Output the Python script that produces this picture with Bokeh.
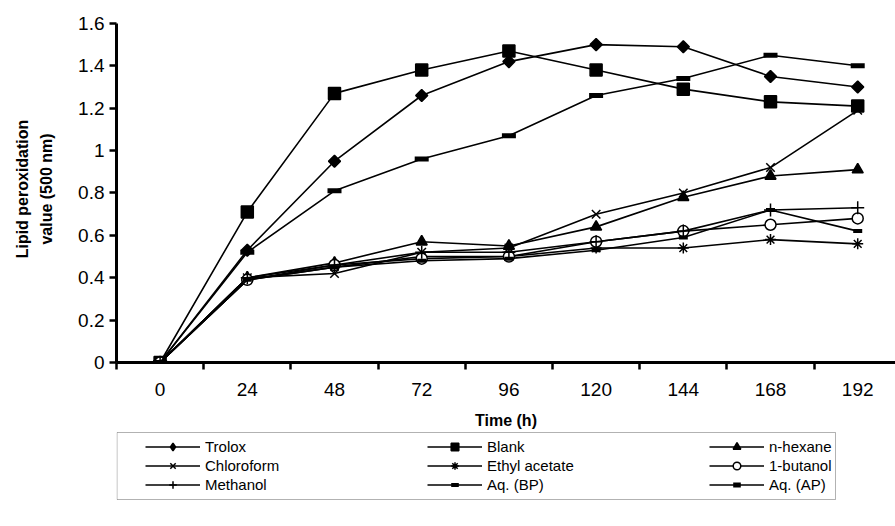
import math
from bokeh.plotting import figure
from bokeh.layouts import column
from bokeh.models import (Range1d, FixedTicker, NumeralTickFormatter, Legend,
                          LegendItem, LinearAxis, BoxAnnotation)
from bokeh.embed import file_html
from bokeh.resources import INLINE

hours = [0, 24, 48, 72, 96, 120, 144, 168, 192]
trolox = [0, 0.53, 0.95, 1.26, 1.42, 1.50, 1.49, 1.35, 1.30]
blank = [0, 0.71, 1.27, 1.38, 1.47, 1.38, 1.29, 1.23, 1.21]
n_hexane = [0, 0.40, 0.47, 0.57, 0.55, 0.64, 0.78, 0.88, 0.91]
chloroform = [0, 0.40, 0.42, 0.52, 0.54, 0.70, 0.80, 0.92, 1.19]
ethyl_acetate = [0, 0.39, 0.45, 0.50, 0.50, 0.54, 0.54, 0.58, 0.56]
butanol = [0, 0.39, 0.46, 0.49, 0.50, 0.57, 0.62, 0.65, 0.68]
methanol = [0, 0.40, 0.46, 0.52, 0.52, 0.57, 0.62, 0.72, 0.73]
aq_bp = [0, 0.39, 0.45, 0.48, 0.49, 0.53, 0.59, 0.72, 0.62]
aq_ap = [0, 0.52, 0.81, 0.96, 1.07, 1.26, 1.34, 1.45, 1.40]
y_ticks = [0, 0.2, 0.4, 0.6, 0.8, 1.0, 1.2, 1.4, 1.6]

FONT = "Liberation Sans"
TOP_H = 431
LEG_H = 526 - TOP_H
FRAME_L = 116

p = figure(width=895, height=TOP_H, output_backend="svg", toolbar_location=None,
           x_range=Range1d(-12, 202.4), y_range=Range1d(0, 1.6375),
           min_border_left=FRAME_L, min_border_right=0, min_border_top=15,
           min_border_bottom=TOP_H - 364)
p.grid.visible = False
p.outline_line_color = None

styles = [
    dict(marker="square", size=8.5, fill_color="black", angle=math.pi / 4),
    dict(marker="square", size=12, fill_color="black"),
    dict(marker="triangle", size=11, fill_color="black"),
    dict(marker="x", size=12, fill_color="black"),
    dict(marker="asterisk", size=11, fill_color="black"),
    dict(marker="circle", size=11, fill_color="white"),
    dict(marker="cross", size=13, fill_color="black"),
    dict(marker="dash", size=9, fill_color="black", line_width=4),
    dict(marker="dash", size=14, fill_color="black", line_width=5),
]
legend_styles = [dict(marker="diamond", size=12, fill_color="black")] + styles[1:]
names = ["Trolox", "Blank", "n-hexane", "Chloroform", "Ethyl acetate",
         "1-butanol", "Methanol", "Aq. (BP)", "Aq. (AP)"]
values = [trolox, blank, n_hexane, chloroform, ethyl_acetate, butanol,
          methanol, aq_bp, aq_ap]

for vals, st in zip(values, styles):
    kw = dict(line_width=1.5)
    kw.update(st)
    p.line(hours, vals, line_color="black", line_width=1.6)
    p.scatter(hours, vals, line_color="black", **kw)

xa = p.xaxis[0]
xa.ticker = FixedTicker(ticks=hours, minor_ticks=[-12 + 24 * i for i in range(9)])
xa.axis_line_width = 3
xa.major_tick_out = 0
xa.major_tick_in = 0
xa.minor_tick_out = 7
xa.minor_tick_in = 0
xa.minor_tick_line_width = 2.5
xa.major_label_standoff = 13
xa.major_label_text_font = FONT
xa.major_label_text_font_size = "19px"
xa.major_label_text_color = "black"
xa.axis_label = "Time (h)"
xa.axis_label_text_font = FONT
xa.axis_label_text_font_style = "bold"
xa.axis_label_text_font_size = "16px"
xa.axis_label_text_color = "black"
xa.axis_label_standoff = 13

ya = p.yaxis[0]
ya.ticker = FixedTicker(ticks=y_ticks, minor_ticks=[])
ya.formatter = NumeralTickFormatter(format="0.[0]")
ya.bounds = (0, 1.6)
ya.axis_line_width = 3
ya.major_tick_out = 7
ya.major_tick_in = 0
ya.major_tick_line_width = 2.5
ya.minor_tick_out = 0
ya.minor_tick_in = 0
ya.major_label_standoff = 5
ya.major_label_text_font = FONT
ya.major_label_text_font_size = "19px"
ya.major_label_text_color = "black"
ya.axis_label = "value (500 nm)"
ya.axis_label_text_font = FONT
ya.axis_label_text_font_style = "bold"
ya.axis_label_text_font_size = "16px"
ya.axis_label_text_color = "black"
ya.axis_label_standoff = 20

ya2 = LinearAxis(ticker=FixedTicker(ticks=[]), axis_line_color=None,
                 major_tick_line_color=None, minor_tick_line_color=None,
                 axis_label="Lipid peroxidation", axis_label_standoff=5,
                 axis_label_text_font=FONT, axis_label_text_font_style="bold",
                 axis_label_text_font_size="16px", axis_label_text_color="black")
p.add_layout(ya2, "left")

# legend panel below the chart (data units = page pixels)
q = figure(width=895, height=LEG_H, output_backend="svg", toolbar_location=None,
           x_range=Range1d(FRAME_L, 895), y_range=Range1d(LEG_H, 0),
           x_axis_type=None, y_axis_type=None, min_border=0,
           min_border_left=FRAME_L, min_border_right=0, min_border_top=0,
           min_border_bottom=0)
q.outline_line_color = None
q.grid.visible = False

items = []
for name, vals, st in zip(names, values, legend_styles):
    kw = dict(line_width=1.5)
    kw.update(st)
    lr = q.line(hours, vals, line_color="black", line_width=1.6, visible=False)
    mr = q.scatter(hours, vals, line_color="black", visible=False, **kw)
    items.append(LegendItem(label=name, renderers=[lr, mr]))

box = BoxAnnotation(left=FRAME_L + 0.5, right=835, top=1, bottom=68,
                    fill_color=None, fill_alpha=0, line_color="black",
                    line_width=1)
q.add_layout(box)

legend = Legend(items=items, ncols=3, orientation="horizontal",
                location=(145 - FRAME_L, LEG_H - 5.5 - 57),
                border_line_color=None, padding=0, margin=0, spacing=0,
                glyph_width=55, glyph_height=19, label_height=19,
                label_standoff=5, label_width=222,
                label_text_font=FONT, label_text_font_size="15px",
                label_text_color="black", background_fill_alpha=0,
                inactive_fill_alpha=0)
q.add_layout(legend, "center")

layout = column(p, q, spacing=0)
open("out.html", "w").write(file_html(layout, INLINE))
